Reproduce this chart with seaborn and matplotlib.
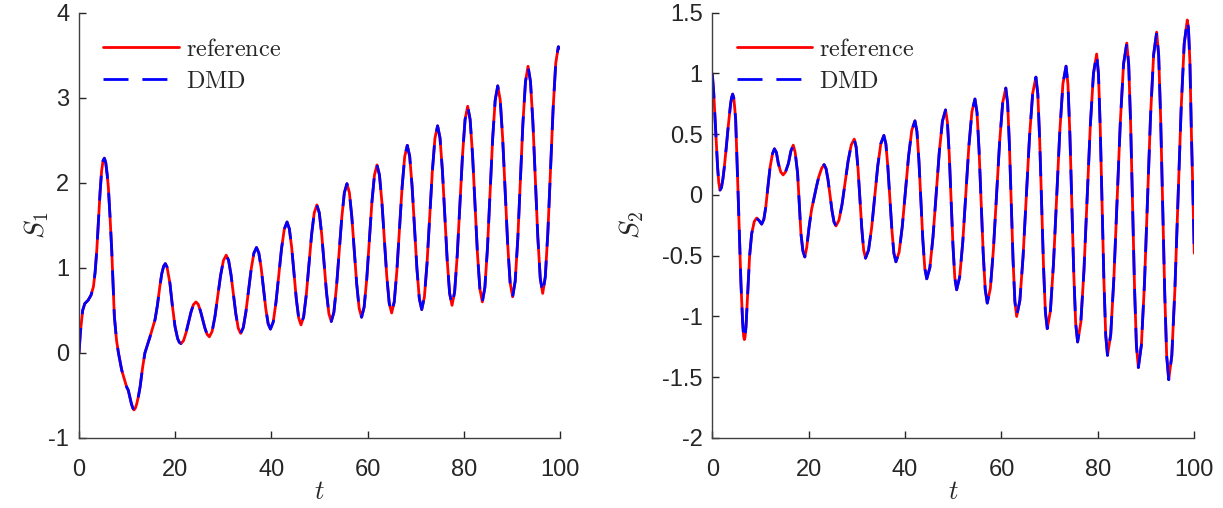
import numpy as np
import matplotlib
matplotlib.use("Agg")
import matplotlib.pyplot as plt
import seaborn as sns

# values (t, S1) -- left panel
t1 = [0, 0.3, 0.76, 1.2, 1.9, 2.5, 3.0, 3.35, 3.7, 4.0,
      4.37, 4.7, 5.0, 5.27, 5.55, 5.85, 6.1, 6.45, 6.8, 7.1,
      7.35, 7.8, 8.2, 8.87, 9.9, 10.25, 10.9, 11.2, 11.43, 11.7,
      12.0, 12.35, 12.7, 13.2, 13.7, 14.76, 15.8, 16.3, 16.8, 17.2,
      17.6, 17.95, 18.3, 18.9, 19.4, 19.96, 20.5, 20.85, 21.2,
      21.72, 22.23, 22.75, 23.27, 23.78, 24.3,
      24.77, 25.23, 25.7, 26.17, 26.63, 27.1,
      27.68, 28.27, 28.85, 29.43, 30.02, 30.6,
      31.1, 31.6, 32.1, 32.6, 33.1, 33.6,
      34.15, 34.7, 35.25, 35.8, 36.35, 36.9,
      37.38, 37.87, 38.35, 38.83, 39.32, 39.8,
      40.38, 40.95, 41.53, 42.1, 42.68, 43.25,
      43.73, 44.22, 44.7, 45.18, 45.67, 46.15,
      46.7, 47.25, 47.8, 48.35, 48.9, 49.45,
      49.95, 50.45, 50.95, 51.45, 51.95, 52.45,
      52.99, 53.53, 54.08, 54.62, 55.16, 55.7,
      56.21, 56.72, 57.23, 57.73, 58.24, 58.75,
      59.28, 59.82, 60.35, 60.88, 61.42, 61.95,
      62.46, 62.97, 63.48, 63.98, 64.49, 65.0,
      65.54, 66.08, 66.63, 67.17, 67.71, 68.25,
      68.75, 69.25, 69.75, 70.25, 70.75, 71.25,
      71.8, 72.35, 72.9, 73.45, 74.0, 74.55,
      75.05, 75.55, 76.05, 76.55, 77.05, 77.55,
      78.09, 78.63, 79.18, 79.72, 80.26, 80.8,
      81.31, 81.82, 82.33, 82.83, 83.34, 83.85,
      84.38, 84.92, 85.45, 85.98, 86.52, 87.05,
      87.57, 88.08, 88.6, 89.12, 89.63, 90.15,
      90.68, 91.22, 91.75, 92.28, 92.82, 93.35,
      93.86, 94.37, 94.88, 95.38, 95.89, 96.4,
      96.94, 97.48, 98.03, 98.57, 99.11, 99.65,
      100]
s1 = [0.0, 0.25, 0.5, 0.58, 0.62, 0.68, 0.78, 0.95, 1.21, 1.5,
      1.88, 2.14, 2.26, 2.29, 2.24, 2.1, 1.95, 1.6, 1.21, 0.8,
      0.43, 0.15, 0.0, -0.2, -0.4, -0.44, -0.6, -0.65, -0.67, -0.65,
      -0.6, -0.51, -0.4, -0.18, 0.0, 0.19, 0.39, 0.56, 0.78, 0.93,
      1.02, 1.05, 1.01, 0.82, 0.56, 0.31, 0.17, 0.125, 0.11,
      0.143, 0.233, 0.355, 0.478, 0.567, 0.6,
      0.573, 0.498, 0.395, 0.293, 0.218, 0.19,
      0.254, 0.43, 0.67, 0.91, 1.086, 1.15,
      1.088, 0.92, 0.69, 0.46, 0.292, 0.23,
      0.298, 0.483, 0.735, 0.988, 1.172, 1.24,
      1.176, 1.0, 0.76, 0.52, 0.344, 0.28,
      0.364, 0.595, 0.91, 1.225, 1.456, 1.54,
      1.459, 1.238, 0.935, 0.633, 0.411, 0.33,
      0.425, 0.683, 1.035, 1.388, 1.646, 1.74,
      1.648, 1.398, 1.055, 0.713, 0.462, 0.37,
      0.479, 0.775, 1.18, 1.585, 1.882, 1.99,
      1.885, 1.598, 1.205, 0.813, 0.525, 0.42,
      0.54, 0.868, 1.315, 1.763, 2.09, 2.21,
      2.093, 1.775, 1.34, 0.905, 0.587, 0.47,
      0.602, 0.963, 1.455, 1.948, 2.308, 2.44,
      2.311, 1.958, 1.475, 0.993, 0.639, 0.51,
      0.655, 1.05, 1.59, 2.13, 2.525, 2.67,
      2.529, 2.143, 1.615, 1.088, 0.701, 0.56,
      0.717, 1.145, 1.73, 2.315, 2.743, 2.90,
      2.746, 2.325, 1.75, 1.175, 0.754, 0.60,
      0.77, 1.235, 1.87, 2.505, 2.97, 3.14,
      2.974, 2.52, 1.90, 1.28, 0.826, 0.66,
      0.842, 1.338, 2.015, 2.693, 3.188, 3.37,
      3.191, 2.703, 2.035, 1.368, 0.879, 0.70,
      0.894, 1.425, 2.15, 2.875, 3.406, 3.60,
      3.58]

# (t, S2) -- right panel
t2 = [0, 0.3, 0.56, 0.85, 1.1, 1.35, 1.6, 1.9, 2.2, 2.5,
      2.9, 3.3, 3.8, 4.0, 4.23, 4.45, 4.65, 4.85, 5.1, 5.4,
      5.7, 5.95, 6.3, 6.5, 6.65, 6.8, 7.0, 7.34, 7.75, 8.17,
      8.7, 9.2, 9.7, 10.25, 10.7, 11.1, 11.55, 12.0, 12.5, 12.9,
      13.3, 13.7, 14.2, 14.7, 15.2, 15.8, 16.3, 16.8, 17.2, 17.7,
      18.05, 18.4, 18.8, 19.2, 19.6, 20.1, 20.6, 21.2, 21.65, 22.1,
      22.7, 23.2,
      23.61, 24.02, 24.43, 24.84, 25.25, 25.66,
      26.29, 26.93, 27.56, 28.19, 28.83, 29.46,
      29.85, 30.24, 30.63, 31.02, 31.41, 31.8,
      32.43, 33.07, 33.7, 34.33, 34.97, 35.6,
      36.02, 36.43, 36.85, 37.27, 37.68, 38.1,
      38.76, 39.42, 40.08, 40.73, 41.39, 42.05,
      42.46, 42.87, 43.28, 43.68, 44.09, 44.5,
      45.15, 45.8, 46.45, 47.1, 47.75, 48.4,
      48.78, 49.17, 49.55, 49.93, 50.32, 50.7,
      51.33, 51.97, 52.6, 53.23, 53.87, 54.5,
      54.93, 55.35, 55.78, 56.2, 56.63, 57.05,
      57.69, 58.33, 58.98, 59.62, 60.26, 60.9,
      61.28, 61.65, 62.03, 62.4, 62.78, 63.15,
      63.82, 64.48, 65.15, 65.82, 66.48, 67.15,
      67.54, 67.93, 68.33, 68.72, 69.11, 69.5,
      70.15, 70.8, 71.45, 72.1, 72.75, 73.4,
      73.8, 74.2, 74.6, 75.0, 75.4, 75.8,
      76.46, 77.12, 77.78, 78.43, 79.09, 79.75,
      80.13, 80.5, 80.88, 81.25, 81.63, 82.0,
      82.67, 83.33, 84.0, 84.67, 85.33, 86.0,
      86.4, 86.8, 87.2, 87.6, 88.0, 88.4,
      89.03, 89.67, 90.3, 90.93, 91.57, 92.2,
      92.62, 93.03, 93.45, 93.87, 94.28, 94.7,
      95.34, 95.98, 96.63, 97.27, 97.91, 98.55,
      98.8, 99.1, 99.4, 99.7, 100]
s2 = [1.0, 0.84, 0.64, 0.42, 0.23, 0.1, 0.04, 0.06, 0.13, 0.23,
      0.39, 0.56, 0.75, 0.8, 0.83, 0.8, 0.72, 0.62, 0.33, -0.04,
      -0.42, -0.73, -1.05, -1.16, -1.19, -1.17, -1.08, -0.81, -0.5, -0.32,
      -0.22, -0.19, -0.21, -0.24, -0.2, -0.1, 0.07, 0.23, 0.34, 0.38,
      0.35, 0.26, 0.19, 0.165, 0.19, 0.26, 0.36, 0.41, 0.35, 0.18,
      -0.07, -0.32, -0.46, -0.51, -0.43, -0.26, -0.12, -0.01, 0.075, 0.15,
      0.22, 0.25,
      0.216, 0.124, -0.003, -0.129, -0.221, -0.255,
      -0.207, -0.076, 0.103, 0.281, 0.412, 0.46,
      0.394, 0.215, -0.03, -0.275, -0.454, -0.52,
      -0.452, -0.268, -0.015, 0.238, 0.422, 0.49,
      0.42, 0.23, -0.03, -0.29, -0.48, -0.55,
      -0.472, -0.26, 0.03, 0.32, 0.532, 0.61,
      0.523, 0.285, -0.04, -0.365, -0.603, -0.69,
      -0.597, -0.343, 0.005, 0.353, 0.607, 0.70,
      0.601, 0.33, -0.04, -0.41, -0.681, -0.78,
      -0.675, -0.388, 0.005, 0.398, 0.685, 0.79,
      0.677, 0.37, -0.05, -0.47, -0.777, -0.89,
      -0.771, -0.448, -0.005, 0.438, 0.761, 0.88,
      0.754, 0.41, -0.06, -0.53, -0.874, -1.0,
      -0.868, -0.508, -0.015, 0.478, 0.838, 0.97,
      0.831, 0.453, -0.065, -0.583, -0.961, -1.10,
      -0.955, -0.56, -0.02, 0.52, 0.915, 1.06,
      0.908, 0.493, -0.075, -0.643, -1.058, -1.21,
      -1.051, -0.618, -0.025, 0.568, 1.001, 1.16,
      0.994, 0.54, -0.08, -0.70, -1.154, -1.32,
      -1.148, -0.678, -0.035, 0.608, 1.078, 1.25,
      1.071, 0.583, -0.085, -0.753, -1.241, -1.42,
      -1.235, -0.73, -0.04, 0.65, 1.155, 1.34,
      1.148, 0.625, -0.09, -0.805, -1.328, -1.52,
      -1.322, -0.78, -0.04, 0.70, 1.242, 1.44,
      1.37, 1.09, 0.52, 0.04, -0.48]

# DMD reconstruction lies on top of the reference curve
dmd1 = list(s1)
dmd2 = list(s2)

xticks = [0, 20, 40, 60, 80, 100]
yticks1 = [-1, 0, 1, 2, 3, 4]
yticks2 = [-2, -1.5, -1, -0.5, 0, 0.5, 1, 1.5]

sns.set_style("ticks")
plt.rcParams['font.family'] = ['Liberation Sans', 'DejaVu Sans']
plt.rcParams['mathtext.fontset'] = 'cm'

fig = plt.figure(figsize=(12.23, 5.08), dpi=100)
ax1 = fig.add_axes([0.0646, 0.1378, 0.3933, 0.8372])
ax2 = fig.add_axes([0.5824, 0.1378, 0.3941, 0.8372])

panels = [(ax1, t1, s1, dmd1, yticks1, r'$S_1$', -0.058),
          (ax2, t2, s2, dmd2, yticks2, r'$S_2$', -0.138)]

for ax, t, s, d, yt, ylab, ylx in panels:
    sns.lineplot(x=t, y=s, ax=ax, color='#ff0000', lw=2.0,
                 estimator=None, label=r'$\mathrm{reference}$')
    sns.lineplot(x=t, y=d, ax=ax, color='#0000ff', lw=2.0,
                 linestyle=(0, (9, 5)), estimator=None, label=r'$\mathrm{DMD}$')
    ax.set_xlim(0, 100)
    ax.set_ylim(yt[0], yt[-1])
    ax.set_xticks(xticks)
    ax.set_xticklabels(['%g' % v for v in xticks])
    ax.set_yticks(yt)
    ax.set_yticklabels(['%g' % v for v in yt])
    ax.tick_params(direction='in', length=5, width=1, colors='#262626',
                   labelsize=17)
    ax.tick_params(axis='x', pad=15)
    ax.tick_params(axis='y', pad=7)
    for sp in ['left', 'bottom']:
        ax.spines[sp].set_color('#404040')
        ax.spines[sp].set_linewidth(1.0)
    sns.despine(ax=ax)
    ax.set_xlabel(r'$t$', fontsize=19, va='center')
    ax.set_ylabel(ylab, fontsize=20)
    ax.xaxis.set_label_coords(0.5, -0.127)
    ax.yaxis.set_label_coords(ylx, 0.5)
    ax.legend(loc='upper left', bbox_to_anchor=(0.005, 0.99), frameon=False,
              fontsize=17.5, handlelength=3.1, handletextpad=0.3,
              labelspacing=0.4)

fig.savefig('out.png', dpi=100)
